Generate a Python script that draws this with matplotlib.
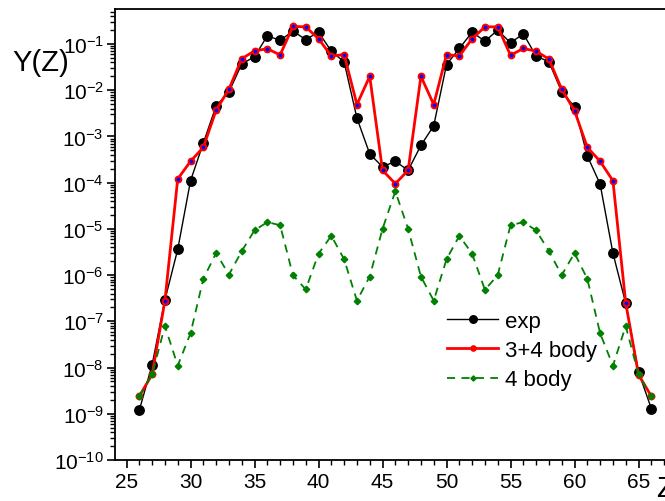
import numpy as np
import matplotlib
matplotlib.use("Agg")
import matplotlib.pyplot as plt
from matplotlib.ticker import LogLocator, MultipleLocator, LogFormatterSciNotation

plt.rcParams['font.family'] = ['Liberation Sans', 'DejaVu Sans']
plt.rcParams['mathtext.fontset'] = 'custom'
plt.rcParams['mathtext.rm'] = 'Liberation Sans'
plt.rcParams['mathtext.it'] = 'Liberation Sans:italic'

# charge number of fragment
Z = list(range(26, 67))

# experimental yields
exp_y = [1.2e-9, 1.15e-8, 2.9e-7, 3.6e-6, 1.1e-4, 7.2e-4, 4.6e-3, 9.1e-3, 0.037, 0.053,
         0.15, 0.12, 0.19, 0.125, 0.18, 0.07, 0.041, 2.5e-3, 4.2e-4, 2.2e-4,
         2.9e-4, 1.85e-4, 6.4e-4, 1.7e-3, 0.036, 0.08, 0.18, 0.115, 0.2, 0.106,
         0.166, 0.055, 0.041, 9.2e-3, 4.4e-3, 3.8e-4, 9.3e-5, 3.0e-6, 2.45e-7, 8e-9,
         1.3e-9]

# 3+4 body calculation
body34 = [2.4e-9, 7.1e-9, 2.8e-7, 1.2e-4, 2.9e-4, 5.8e-4, 3.7e-3, 0.0105, 0.048, 0.071,
          0.079, 0.058, 0.24, 0.235, 0.13, 0.055, 0.059, 4.9e-3, 0.02, 1.85e-4,
          9.5e-5, 1.85e-4, 0.02, 4.9e-3, 0.059, 0.055, 0.13, 0.235, 0.235, 0.057,
          0.08, 0.07, 0.047, 0.0105, 3.6e-3, 5.8e-4, 2.9e-4, 1.1e-4, 2.5e-7, 7e-9,
          2.4e-9]

# 4 body calculation
body4 = [2.4e-9, 7.1e-9, 7.9e-8, 1.1e-8, 5.5e-8, 8.3e-7, 3.0e-6, 1.02e-6, 3.3e-6, 9.3e-6,
         1.4e-5, 1.2e-5, 1.0e-6, 4.9e-7, 2.9e-6, 7.1e-6, 2.2e-6, 2.8e-7, 9.3e-7, 1.0e-5,
         6.5e-5, 1.0e-5, 9.3e-7, 2.8e-7, 2.2e-6, 7.1e-6, 2.9e-6, 4.8e-7, 1.0e-6, 1.2e-5,
         1.4e-5, 9.3e-6, 3.3e-6, 1.0e-6, 3.0e-6, 8.3e-7, 5.5e-8, 1.1e-8, 7.9e-8, 7.1e-9,
         2.4e-9]

W, H = 665, 502
fig = plt.figure(figsize=(W / 100, H / 100), dpi=100)
left, right, top, bottom = 115, 678, 9.5, 461
ax = fig.add_axes([left / W, 1 - bottom / H, (right - left) / W, (bottom - top) / H])

ax.plot(Z, exp_y, color='black', lw=1.0, marker='o', ms=6.8, label='exp', zorder=3)
ax.plot(Z, body34, color='red', lw=2.0, marker='o', ms=4.2, mfc='blue', mec='red',
        mew=1.4, label='3+4 body', zorder=4)
ax.plot(Z, body4, color='#008000', lw=1.3, ls=(0, (4.5, 3.5)), marker='D', ms=3.3,
        mfc='#008000', mec='#008000', label='4 body', zorder=5)

ax.set_yscale('log')
ax.set_ylim(1e-10, 0.586)
ax.set_xlim(24.1, 24.1 + (right - left) / 12.8)

ax.xaxis.set_major_locator(MultipleLocator(5))
ax.xaxis.set_minor_locator(MultipleLocator(1))
ax.yaxis.set_major_locator(LogLocator(base=10, numticks=20))
ax.yaxis.set_minor_locator(LogLocator(base=10, subs=np.arange(2, 10), numticks=20))
ax.yaxis.set_major_formatter(LogFormatterSciNotation())

ax.tick_params(which='major', direction='out', length=6, width=1.2, labelsize=15,
               top=False, right=False)
ax.tick_params(which='minor', direction='out', length=3.5, width=1.0,
               top=False, right=False)
ax.tick_params(axis='x', pad=3)
ax.tick_params(axis='y', pad=2)
for s in ax.spines.values():
    s.set_linewidth(1.3)

fig.text(41 / W, 1 - 63 / H, 'Y(Z)', fontsize=21, ha='center', va='center')
fig.text(656 / W, 1 - 497 / H, 'Z', fontsize=21, ha='left', va='baseline')

leg = ax.legend(loc='upper left', bbox_to_anchor=(447 / W, 1 - 312 / H),
                bbox_transform=fig.transFigure, frameon=False, fontsize=16,
                handlelength=2.3, handletextpad=0.33, labelspacing=0.37,
                borderpad=0, borderaxespad=0, markerscale=0.8)
# legend marker of the 3+4 body line is plain red
leg.legend_handles[1].set_markerfacecolor('red')

fig.savefig('out.png', dpi=100)
